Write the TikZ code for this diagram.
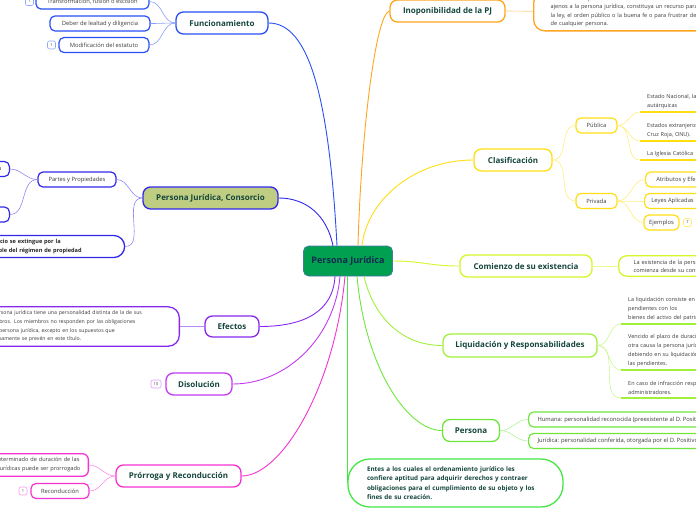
\documentclass[tikz,border=0pt]{standalone}
\usepackage{fontspec}
\setmainfont{Open Sans}
\definecolor{cenfill}{RGB}{0,160,80}
\definecolor{cenline}{RGB}{70,120,170}
\definecolor{centext}{RGB}{20,40,80}
\definecolor{labtext}{RGB}{20,70,60}
\definecolor{smalltext}{RGB}{60,60,60}
\definecolor{cfunc}{RGB}{40,80,245}
\definecolor{ccons}{RGB}{50,40,235}
\definecolor{consfill}{RGB}{190,205,130}
\definecolor{ceff}{RGB}{135,40,240}
\definecolor{cdis}{RGB}{195,60,240}
\definecolor{cpro}{RGB}{245,50,210}
\definecolor{cino}{RGB}{255,165,30}
\definecolor{ccla}{RGB}{255,222,20}
\definecolor{ccom}{RGB}{215,245,40}
\definecolor{cliq}{RGB}{160,240,60}
\definecolor{cper}{RGB}{110,230,60}
\definecolor{cdef}{RGB}{70,230,70}
\tikzset{
  mainbox/.style={draw=#1,line width=1.3pt,rounded corners=7.5pt,fill=white,text=labtext,
    font=\bfseries\fontsize{8}{10}\selectfont,minimum height=22pt,inner sep=0pt},
  subbox/.style={draw=#1,line width=1.2pt,rounded corners=5pt,fill=white,text=smalltext,
    font=\fontsize{5.8}{7}\selectfont,minimum height=15pt,inner sep=0pt},
  textbox/.style={draw=#1,line width=1.3pt,rounded corners=11pt,fill=white,text=smalltext,
    font=\fontsize{5.2}{8.7}\selectfont,align=left,inner xsep=14pt,inner ysep=4pt},
  ulnode/.style={text=smalltext,font=\fontsize{5.5}{8.5}\selectfont,align=left,
    inner xsep=7pt,inner ysep=3pt,text width=200pt},
  badge/.style={draw=#1,line width=0.6pt,rounded corners=2pt,fill=white,text=smalltext,
    font=\fontsize{4}{4}\selectfont,minimum width=8pt,minimum height=8pt,inner sep=0.5pt},
  branch/.style={draw=#1,line width=0.9pt},
  twig/.style={draw=#1!55,line width=0.6pt},
  underl/.style={draw=#1,line width=1.2pt}
}
\begin{document}
\begin{tikzpicture}[x=1pt,y=-1pt]
\useasboundingbox (0,0) rectangle (696,520);
\clip (0,0) rectangle (696,520);

\node[fill=cenfill,draw=cenline,line width=0.6pt,rounded corners=5pt,text=centext,
  font=\bfseries\fontsize{9}{10}\selectfont,minimum width=89pt,minimum height=30pt] (cen) at (348,261) {Persona Jurídica};

\node[mainbox=cfunc,minimum width=92pt] (func) at (222,23) {Funcionamiento};
\node[subbox=cfunc,minimum width=113pt] (trans) at (92.5,1.5) {Transformación, fusión o escisión};
\node[subbox=cfunc,minimum width=100pt] (deber) at (100,23.5) {Deber de lealtad y diligencia};
\node[subbox=cfunc,minimum width=90pt] (modif) at (104,45) {Modificación del estatuto};
\node[badge=cfunc!50] (btrans) at (29.5,1.5) {1};
\node[badge=cfunc!50] (bmodif) at (51.5,45) {1};

\node[mainbox=ccons,fill=consfill,minimum width=135pt] (cons) at (210.5,198) {Persona Jurídica, Consorcio};
\node[subbox=ccons,minimum width=78pt] (partes) at (77,179.5) {Partes y Propiedades};
\node[subbox=ccons,inner xsep=8pt,anchor=east] (partA) at (10,169) {Parte privativa};
\node[subbox=ccons,inner xsep=12pt,anchor=east] (partB) at (10,214.5) {Partes comunes};
\node[textbox=ccons,text=black!85,font=\bfseries\fontsize{5.6}{8.5}\selectfont,anchor=west,text width=130pt] (extin) at (-34,246.5)
  {Consorcio se extingue por la\\inmueble del régimen de propiedad};

\node[mainbox=ceff,minimum width=54pt,minimum height=21pt] (eff) at (232,326.5) {Efectos};
\node[textbox=ceff,anchor=east,text width=180pt] (effT) at (180,326.5)
  {La persona jurídica tiene una personalidad distinta de la de sus\\miembros. Los miembros no responden por las obligaciones\\de la persona jurídica, excepto en los supuestos que\\expresamente se prevén en este título.};

\node[mainbox=cdis,minimum width=66pt] (dis) at (199,384) {Disolución};
\node[badge=cdis!50,minimum width=10pt] (bdis) at (156,384) {10};

\node[mainbox=cpro,minimum width=125pt] (pro) at (178.5,476) {Prórroga y Reconducción};
\node[textbox=cpro,rounded corners=6pt,inner xsep=4pt,font=\fontsize{5.6}{9}\selectfont,anchor=east,text width=112pt] (plazo) at (89,465)
  {El plazo determinado de duración de las\\personas jurídicas puede ser prorrogado};
\node[subbox=cpro,minimum width=58pt] (recon) at (60,491) {Reconducción};
\node[badge=cpro!50] (brecon) at (23,491) {1};

\node[mainbox=cino,minimum width=115pt] (ino) at (447.5,11) {Inoponibilidad de la PJ};
\node[textbox=cino,font=\fontsize{5.6}{8.5}\selectfont,anchor=south west,text width=210pt,inner xsep=17pt] (inoT) at (533,31.5)
  {La actuación que esté destinada a la consecución de fines\\ajenos a la persona jurídica, constituya un recurso para violar\\la ley, el orden público o la buena fe o para frustrar derechos\\de cualquier persona.};

\node[mainbox=ccla,minimum width=78pt] (cla) at (513,160) {Clasificación};
\node[subbox=ccla,minimum width=41pt] (pub) at (596.5,125.5) {Pública};
\node[subbox=ccla,minimum width=41pt] (priv) at (596.5,201) {Privada};
\node[ulnode,anchor=south west] (nac) at (640,112) {Estado Nacional, las Provincias, los Municipios, las entidades\\autárquicas};
\node[ulnode,anchor=south west] (ext) at (640,141) {Estados extranjeros, organizaciones internacionales (Ej.\\Cruz Roja, ONU).};
\node[ulnode,anchor=south west] (igl) at (640,160) {La Iglesia Católica};
\node[subbox=ccla,minimum width=72pt,anchor=west] (atr) at (645,179.5) {Atributos y Efectos};
\node[subbox=ccla,minimum width=56pt,anchor=west] (ley) at (644,201) {Leyes Aplicadas};
\node[subbox=ccla,minimum width=35pt] (ejem) at (661.5,222.5) {Ejemplos};
\node[badge=ccla!60] (bejem) at (687.5,222.5) {7};

\node[mainbox=ccom,minimum width=132pt] (com) at (526,266) {Comienzo de su existencia};
\node[textbox=ccom,rounded corners=8pt,font=\fontsize{5.6}{8}\selectfont,anchor=west,text width=160pt,inner xsep=15pt] (comT) at (618,266)
  {La existencia de la persona jurídica privada\\comienza desde su constitución.};

\node[mainbox=cliq,minimum width=154pt,minimum height=23pt] (liq) at (520,345.5) {Liquidación y Responsabilidades};
\node[ulnode,font=\fontsize{5.5}{9}\selectfont,anchor=south west] (liqA) at (621,324)
  {La liquidación consiste en el cumplimiento de las obligaciones\\pendientes con los\\bienes del activo del patrimonio.};
\node[ulnode,font=\fontsize{5.5}{9}\selectfont,anchor=south west] (liqB) at (621,370)
  {Vencido el plazo de duración o producida\\otra causa la persona jurídica se disuelve,\\debiendo en su liquidación cancelar\\las pendientes.};
\node[ulnode,font=\fontsize{5.5}{9}\selectfont,anchor=south west] (liqC) at (621,398)
  {En caso de infracción responden los\\administradores.};

\node[mainbox=cper,minimum width=57pt] (per) at (471,430.5) {Persona};
\node[subbox=cper,inner xsep=9pt,anchor=west] (hum) at (528,419.5) {Humana: personalidad reconocida (preexistente al D. Positivo)};
\node[subbox=cper,inner xsep=9pt,anchor=west] (jur) at (528,441) {Jurídica: personalidad conferida, otorgada por el D. Positivo};

\node[draw=cdef,line width=1.3pt,rounded corners=22pt,fill=white,text=labtext,font=\bfseries\fontsize{6.3}{9.3}\selectfont,
  align=left,text width=177pt,inner xsep=19pt,minimum height=48pt] (def) at (455.5,483)
  {Entes a los cuales el ordenamiento jurídico les\\confiere aptitud para adquirir derechos y contraer\\obligaciones para el cumplimiento de su objeto y los\\fines de su creación.};

\draw[branch=cfunc] (func.east) .. controls +(40,0) and +(-8,-150) .. ([xshift=-11pt]cen.north);
\draw[branch=ccons] (cons.east) .. controls +(28,0) and +(-6,-30) .. ([xshift=-15pt]cen.north);
\draw[branch=ceff] (eff.east) .. controls +(45,0) and +(-2,35) .. ([xshift=-13pt]cen.south);
\draw[branch=cdis] (dis.east) .. controls +(55,0) and +(-5,60) .. ([xshift=-8pt]cen.south);
\draw[branch=cpro] (pro.east) .. controls +(40,0) and +(-10,110) .. ([xshift=-3pt]cen.south);
\draw[branch=cino] (ino.west) .. controls +(-14,4) and +(3,-110) .. ([xshift=10pt]cen.north);
\draw[branch=ccla] (cla.west) .. controls +(-60,0) and +(5,-45) .. ([xshift=14pt]cen.north);
\draw[branch=ccom] (cen.east) .. controls +(30,0) and +(-30,0) .. (com.west);
\draw[branch=cliq] (liq.west) .. controls +(-45,0) and +(8,35) .. ([xshift=16pt]cen.south);
\draw[branch=cper] (per.west) .. controls +(-35,0) and +(8,90) .. ([xshift=9pt]cen.south);
\draw[branch=cdef] (cen.south -| def.west) -- (def.west);

\draw[twig=cfunc] (func.west) to[out=180,in=0] (trans.east);
\draw[twig=cfunc] (func.west) to[out=180,in=0] (deber.east);
\draw[twig=cfunc] (func.west) to[out=180,in=0] (modif.east);
\draw[twig=ccons] (cons.west) to[out=180,in=0] (partes.east);
\draw[twig=ccons] (cons.west) to[out=180,in=0] (extin.east);
\draw[twig=ccons] (partes.west) to[out=180,in=0] (partA.east);
\draw[twig=ccons] (partes.west) to[out=180,in=0] (partB.east);
\draw[twig=ceff] (eff.west) -- (effT.east);
\draw[twig=cpro] (pro.west) to[out=180,in=0] (plazo.east);
\draw[twig=cpro] (pro.west) to[out=180,in=0] (recon.east);
\draw[twig=cino] (ino.east) to[out=0,in=180] (inoT.west);
\draw[twig=ccla] (cla.east) to[out=0,in=180] (pub.west);
\draw[twig=ccla] (cla.east) to[out=0,in=180] (priv.west);
\draw[twig=ccla] (pub.east) to[out=0,in=180] (nac.south west);
\draw[twig=ccla] (pub.east) to[out=0,in=180] (ext.south west);
\draw[twig=ccla] (pub.east) to[out=0,in=180] (igl.south west);
\draw[underl=ccla] (nac.south west) -- (nac.south east);
\draw[underl=ccla] (ext.south west) -- (ext.south east);
\draw[underl=ccla] (igl.south west) -- (igl.south east);
\draw[twig=ccla] (priv.east) to[out=0,in=180] (atr.west);
\draw[twig=ccla] (priv.east) to[out=0,in=180] (ley.west);
\draw[twig=ccla] (priv.east) to[out=0,in=180] (ejem.west);
\draw[twig=ccom] (com.east) -- (comT.west);
\draw[twig=cliq] (liq.east) to[out=0,in=180] (liqA.south west);
\draw[twig=cliq] (liq.east) to[out=0,in=180] (liqB.south west);
\draw[twig=cliq] (liq.east) to[out=0,in=180] (liqC.south west);
\draw[underl=cliq] (liqA.south west) -- (liqA.south east);
\draw[underl=cliq] (liqB.south west) -- (liqB.south east);
\draw[underl=cliq] (liqC.south west) -- (liqC.south east);
\draw[twig=cper] (per.east) to[out=0,in=180] (hum.west);
\draw[twig=cper] (per.east) to[out=0,in=180] (jur.west);
\end{tikzpicture}
\end{document}
